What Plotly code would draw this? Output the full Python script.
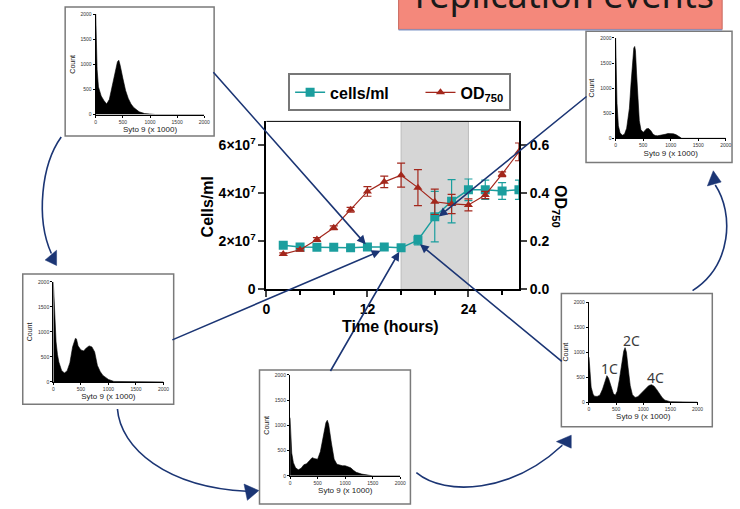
import plotly.graph_objects as go

# ---------------- data ----------------
hours = [2, 4, 6, 8, 10, 12, 14, 16, 18, 20, 22, 24, 26, 28, 30]
cells_ml = [1.84e7, 1.77e7, 1.755e7, 1.755e7, 1.73e7, 1.77e7, 1.77e7, 1.73e7,
            2.05e7, 3.03e7, 3.67e7, 4.15e7, 4.15e7, 4.10e7, 4.15e7]
cells_err = [0.05e7, 0.05e7, 0.05e7, 0.05e7, 0.05e7, 0.05e7, 0.05e7, 0.05e7,
             0.2e7, 1.05e7, 0.9e7, 0.45e7, 0.4e7, 0.35e7, 0.4e7]
od750 = [0.147, 0.165, 0.208, 0.257, 0.332, 0.408, 0.448, 0.476,
         0.424, 0.365, 0.356, 0.352, 0.393, 0.48, 0.573]
od_err = [0.005, 0.005, 0.008, 0.008, 0.01, 0.02, 0.024, 0.05,
          0.075, 0.053, 0.04, 0.025, 0.015, 0.01, 0.037]
shade_hours = [16, 24]

y_left_ticks = [0, 2e7, 4e7, 6e7]
y_left_text = ["0", "2×10<sup>7</sup>", "4×10<sup>7</sup>", "6×10<sup>7</sup>"]
y_right_ticks = [0, 0.2, 0.4, 0.6]
y_right_text = ["0.0", "0.2", "0.4", "0.6"]
x_ticks = [0, 12, 24]

# histograms (Syto 9 x1000 vs Count)
h1_x = [0, 10, 25, 50, 75, 100, 150, 200, 250, 300, 350, 400, 425, 450, 500, 550, 600,
        650, 700, 750, 800, 900, 1000, 1100, 2000]
h1_c = [2000, 1600, 900, 550, 430, 370, 280, 210, 300, 550, 850, 1050, 1080, 980, 720, 480,
        320, 210, 140, 90, 55, 20, 5, 0, 0]

h2_x = [0, 10, 25, 50, 75, 100, 150, 200, 250, 300, 350, 400, 420, 450, 500, 550, 600,
        650, 700, 750, 800, 850, 900, 1000, 1100, 2000]
h2_c = [2000, 1700, 1350, 800, 550, 400, 230, 180, 220, 380, 700, 870, 860, 720, 640, 620,
        680, 720, 700, 600, 330, 210, 130, 50, 10, 0]

h3_x = [0, 10, 30, 60, 100, 150, 200, 250, 300, 350, 400, 450, 500, 550, 600, 650, 675,
        700, 750, 800, 850, 900, 950, 1000, 1050, 1100, 1150, 1200, 1300, 1400, 1500, 2000]
h3_c = [1150, 900, 450, 260, 160, 120, 150, 220, 240, 300, 360, 340, 330, 480, 750, 1050,
        1100, 1020, 650, 330, 230, 210, 200, 200, 185, 160, 110, 70, 35, 10, 0, 0]

h4_x = [0, 15, 40, 75, 100, 150, 200, 250, 300, 330, 360, 400, 450, 485, 520, 560, 600,
        640, 665, 690, 720, 760, 800, 850, 900, 950, 1000, 1050, 1100, 1150, 1200, 1250,
        1300, 1350, 1400, 1500, 2000]
h4_c = [900, 600, 300, 160, 120, 115, 140, 260, 460, 530, 480, 320, 170, 140, 220, 450,
        780, 1020, 1090, 1000, 700, 330, 150, 95, 110, 160, 220, 280, 330, 350, 320, 250,
        160, 90, 40, 10, 0]

h5_x = [0, 10, 25, 50, 80, 120, 160, 200, 250, 280, 310, 330, 346, 360, 380, 400, 430,
        460, 500, 530, 560, 600, 640, 680, 720, 760, 800, 850, 900, 950, 1000, 1050, 1100,
        1150, 1200, 2000]
h5_c = [2000, 1500, 700, 250, 110, 60, 80, 200, 600, 1100, 1600, 1800, 1830, 1750, 1300,
        800, 350, 170, 120, 150, 190, 195, 150, 80, 55, 50, 55, 65, 80, 95, 95, 90, 70, 40,
        0, 0]

hist_ticks = [0, 500, 1000, 1500, 2000]

# ---------------- layout helpers ----------------
W, H = 740, 509


def X(px):
    return px / W


def Y(py):
    return 1 - py / H


NAVY = "#1B3574"
TEAL = "#1B9E9E"
RED = "#A3271C"
FONT = "Liberation Sans"
NBSP = "&nbsp;" * 6

fig = go.Figure()

fig.add_trace(go.Scatter(
    x=hours, y=cells_ml, name="cells/ml" + NBSP, mode="lines+markers",
    line=dict(color=TEAL, width=1.5),
    marker=dict(symbol="square", size=9, color=TEAL),
    error_y=dict(type="data", array=cells_err, color=TEAL, thickness=1.2, width=4),
    xaxis="x", yaxis="y"))
fig.add_trace(go.Scatter(
    x=hours, y=od750, name="OD<sub>750</sub>", mode="lines+markers",
    line=dict(color=RED, width=1.2),
    marker=dict(symbol="triangle-up", size=8, color=RED),
    error_y=dict(type="data", array=od_err, color=RED, thickness=1.2, width=4),
    xaxis="x", yaxis="y2"))

# inset boxes (px) and plot areas (px)
insets = [
    (h1_x, h1_c, (62, 4, 213, 136), (93, 11.3, 203, 114)),
    (h5_x, h5_c, (590, 29, 738, 163), (620, 35.7, 731.7, 138.3)),
    (h2_x, h2_c, (19, 277, 172, 410), (50, 285, 161.7, 387.3)),
    (h3_x, h3_c, (259, 375, 412, 512), (290, 380, 401.7, 483.3)),
    (h4_x, h4_c, (565, 297, 718, 433), (593, 305.7, 703, 408)),
]

shapes = []
layout_axes = {}
for i, (hx, hc, box, area) in enumerate(insets):
    n = i + 3
    fig.add_trace(go.Scatter(
        x=hx, y=hc, mode="lines", fill="tozeroy", fillcolor="black",
        line=dict(color="black", width=0.6), showlegend=False,
        xaxis=f"x{n}", yaxis=f"y{n}", hoverinfo="skip"))
    shapes.append(dict(type="rect", xref="paper", yref="paper",
                       x0=X(box[0]), x1=X(box[2]), y0=Y(box[3]), y1=Y(box[1]),
                       fillcolor="white", line=dict(color="#7a7a7a", width=1.5),
                       layer="below"))
    ax_common = dict(showgrid=False, zeroline=False, showline=True, linecolor="black",
                     linewidth=1.3, ticks="outside", ticklen=2, tickwidth=0.8,
                     tickcolor="black", tickvals=hist_ticks,
                     tickfont=dict(size=5, color="#333", family=FONT))
    layout_axes[f"xaxis{n}"] = dict(
        domain=[X(area[0]), X(area[2])], anchor=f"y{n}", range=[0, 2000],
        title=dict(text="Syto 9 (x 1000)", font=dict(size=8, color="#222", family=FONT),
                   standoff=2), **ax_common)
    layout_axes[f"yaxis{n}"] = dict(
        domain=[Y(area[3]), Y(area[1])], anchor=f"x{n}", range=[0, 2000],
        title=dict(text="Count", font=dict(size=7, color="#222", family=FONT),
                   standoff=4), **ax_common)

# shaded region in main chart
shapes.append(dict(type="rect", xref="x", yref="y domain", x0=shade_hours[0],
                   x1=shade_hours[1], y0=0, y1=1, fillcolor="#D6D6D6",
                   line=dict(color="#BDBDBD", width=1), layer="below"))
# top frame line of main chart
shapes.append(dict(type="line", xref="x domain", yref="y domain", x0=0, x1=1, y0=1, y1=1,
                   line=dict(color="black", width=1)))

# title banner (partially off-canvas)
shapes.append(dict(type="rect", xref="paper", yref="paper", x0=X(400), x1=X(728),
                   y0=Y(27), y1=Y(-20), fillcolor="#F4887B",
                   line=dict(color="#C8685E", width=1)))
shapes.append(dict(type="line", xref="paper", yref="paper", x0=X(400), x1=X(728),
                   y0=Y(27.5), y1=Y(27.5), line=dict(color="#7F96C8", width=1.2)))


def bez(pts):
    (x0, y0), (x1, y1), (x2, y2), (x3, y3) = pts
    return (f"M {X(x0)},{Y(y0)} C {X(x1)},{Y(y1)} {X(x2)},{Y(y2)} {X(x3)},{Y(y3)}")


def tri(pts):
    s = "M " + " L ".join(f"{X(a)},{Y(b)}" for a, b in pts) + " Z"
    return s


curves = [
    ([(58, 137), (38, 165), (32, 220), (48, 256)], [(41.7, 262.7), (53.3, 252.7), (53.3, 268.3)]),
    ([(115, 415), (118, 455), (165, 495), (246, 499)], [(243.3, 491.7), (258.3, 498.3), (246.7, 508.3)]),
    ([(418, 480), (448, 505), (515, 500), (566, 452)], [(560, 448.3), (575, 441.7), (575, 455)]),
    ([(698, 294), (738, 268), (740, 215), (721, 186)], [(713, 187), (719, 171.5), (727, 183)]),
]
for path_pts, head in curves:
    shapes.append(dict(type="path", xref="paper", yref="paper", path=bez(path_pts),
                       line=dict(color=NAVY, width=1.6)))
    shapes.append(dict(type="path", xref="paper", yref="paper", path=tri(head),
                       fillcolor=NAVY, line=dict(color=NAVY, width=0.5)))

annotations = []
# straight arrows: tail px -> tip px
straight = [((213, 73), (366.7, 246.7)), ((172, 343), (381.7, 253.3)),
            ((331, 375), (400.7, 254.3)), ((565, 365), (421.7, 246.7)),
            ((590, 97), (440.7, 218.3))]
for (tx, ty), (hx_, hy_) in straight:
    annotations.append(dict(x=X(hx_), y=Y(hy_), xref="paper", yref="paper", text="",
                            showarrow=True, ax=tx - hx_, ay=ty - hy_, axref="pixel",
                            ayref="pixel", arrowhead=2, arrowsize=1.1, arrowwidth=1.6,
                            arrowcolor=NAVY))


def label(px, py, text, size, family, color, angle=0):
    return dict(x=X(px), y=Y(py), xref="paper", yref="paper", text=text,
                textangle=angle, showarrow=False, xanchor="center", yanchor="middle",
                font=dict(size=size, family=family, color=color))


annotations += [
    label(206.7, 208, "<b>Cells/ml</b>", 16, FONT, "black", -90),
    label(563, 208, "<b>OD<sub>750</sub></b>", 16, FONT, "black", 90),
    label(392, 330.5, "<b>Time (hours)</b>", 16, FONT, "black"),
    label(568, -9, "replication events", 36, "Noto Sans", "#1a1a1a"),
    label(613.3, 373.3, "1C", 14, "Noto Sans", "#3a3a3a"),
    label(636, 345, "2C", 14, "Noto Sans", "#3a3a3a"),
    label(660, 383, "4C", 14, "Noto Sans", "#3a3a3a"),
]

main_tick_font = dict(size=14, family=FONT, color="black", weight="bold")

fig.update_layout(
    width=W, height=H, margin=dict(l=0, r=0, t=0, b=0),
    paper_bgcolor="white", plot_bgcolor="rgba(0,0,0,0)",
    showlegend=True,
    legend=dict(x=X(288), y=Y(72), xanchor="left", yanchor="top", orientation="h",
                bordercolor="#777", borderwidth=2, bgcolor="white",
                font=dict(size=16, family=FONT, color="black", weight="bold"),
                itemwidth=30),
    xaxis=dict(domain=[X(266), X(522)], anchor="y", range=[0, 30], tickvals=x_ticks,
               showgrid=False, zeroline=False, showline=True, linecolor="black",
               linewidth=2, ticks="outside", ticklen=6, tickwidth=2,
               tickfont=main_tick_font,
               minor=dict(ticks="outside", ticklen=4, tickwidth=1.5, dtick=4,
                          tickcolor="black")),
    yaxis=dict(domain=[Y(292.7), Y(121)], anchor="x", range=[0, 7e7],
               tickvals=y_left_ticks, ticktext=y_left_text, showgrid=False,
               zeroline=False, showline=True, linecolor="black", linewidth=2,
               ticks="outside", ticklen=6, tickwidth=2, tickfont=main_tick_font),
    yaxis2=dict(overlaying="y", side="right", anchor="x", range=[0, 0.7],
                tickvals=y_right_ticks, ticktext=y_right_text, showgrid=False,
                zeroline=False, showline=True, linecolor="black", linewidth=2,
                ticks="outside", ticklen=6, tickwidth=2, tickfont=main_tick_font),
    shapes=shapes, annotations=annotations,
    **layout_axes,
)

fig.write_html("out.html", config={"displayModeBar": False},
               post_script="document.body.style.margin='0px';"
                           "document.body.style.overflow='hidden';")
